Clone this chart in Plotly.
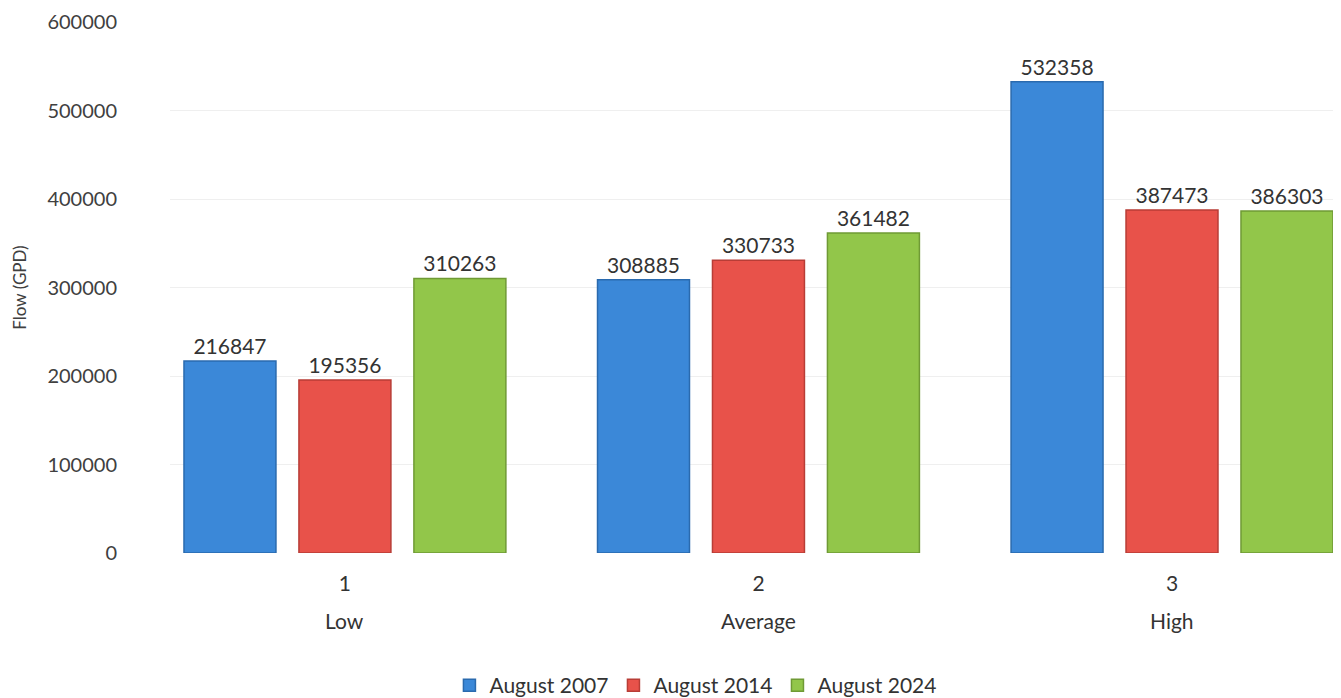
import plotly.graph_objects as go

categories = [1, 2, 3]
category_names = ["Low", "Average", "High"]
series_names = ["August 2007", "August 2014", "August 2024"]
aug_2007 = [216847, 308885, 532358]
aug_2014 = [195356, 330733, 387473]
aug_2024 = [310263, 361482, 386303]
y_ticks = [0, 100000, 200000, 300000, 400000, 500000, 600000]

colors = ["#3b88d8", "#e8524a", "#92c64a"]
edge = ["#2a6aae", "#b83d36", "#6f9a35"]
FONT = "Lato"

fig = go.Figure()
for name, vals, c, e in zip(series_names, [aug_2007, aug_2014, aug_2024], colors, edge):
    fig.add_trace(go.Bar(
        x=categories, y=vals, name=name,
        marker=dict(color=c, line=dict(color=e, width=1.5)),
        text=[str(v) for v in vals], textposition="outside",
        textfont=dict(size=21, color="#333333", family=FONT),
        cliponaxis=False,
    ))

for cat, label in zip(categories, category_names):
    fig.add_annotation(x=cat, y=0, xref="x", yref="paper", yshift=-67,
                       yanchor="middle", text=label, showarrow=False,
                       font=dict(size=21, color="#333333", family=FONT))

fig.update_layout(
    width=1341, height=698,
    margin=dict(l=162, r=0, t=14, b=153, autoexpand=False),
    plot_bgcolor="white", paper_bgcolor="white",
    barmode="group", bargap=0.166, bargroupgap=0.2,
    font=dict(family=FONT, color="#404040"),
    legend=dict(orientation="h", xref="container", yref="container",
                x=0.513, xanchor="center", y=0.0, yanchor="bottom",
                font=dict(size=21, color="#333333"), itemwidth=30,
                traceorder="normal"),
    xaxis=dict(tickvals=categories, ticktext=[str(c) for c in categories],
               range=[0.577, 3.428], showgrid=False, showline=False,
               ticks="", ticklabelstandoff=16,
               tickfont=dict(size=21, color="#333333")),
    yaxis=dict(range=[0, 600000], tickvals=y_ticks,
               ticktext=[str(t) for t in y_ticks],
               gridcolor="#efefef", zeroline=False, showline=False,
               ticklabelstandoff=52,
               tickfont=dict(size=20, color="#404040"),
               title=dict(text="Flow (GPD)", font=dict(size=17, color="#404040"),
                          standoff=16)),
)

fig.write_html("out.html")
